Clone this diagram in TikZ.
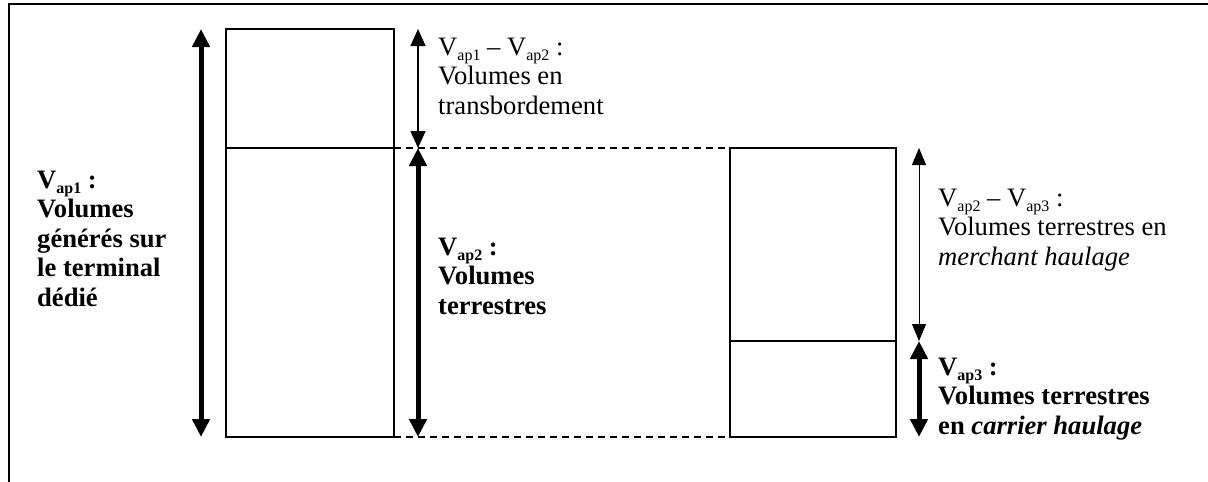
\documentclass[tikz,border=0pt]{standalone}
\usepackage{fontspec}
\setmainfont{Liberation Serif}
\usetikzlibrary{arrows.meta}
\newcommand{\Vs}[1]{V\raisebox{-5pt}{\fontsize{16}{16}\selectfont #1}}
\begin{document}
\begin{tikzpicture}[x=1pt,y=-1pt,
  framel/.style={line width=2.4pt},
  box/.style={draw,line width=2.2pt,minimum width=168pt,inner sep=0pt,outer sep=0pt,anchor=north west},
  dashl/.style={line width=2pt,dash pattern=on 7pt off 5pt},
  thickarr/.style={line width=5pt,{Triangle[width=17pt,length=18pt]}-{Triangle[width=17pt,length=18pt]}},
  thinarr/.style={line width=1.5pt,{Triangle[width=15pt,length=17pt]}-{Triangle[width=15pt,length=17pt]}},
  hairarr/.style={line width=0.8pt,{Triangle[width=14pt,length=17pt]}-{Triangle[width=14pt,length=17pt]}},
  lbl/.style={anchor=base west,align=left,inner sep=0pt,font=\fontsize{26.6}{29.5}\selectfont},
  blbl/.style={lbl,font=\fontsize{26.6}{29.5}\selectfont\bfseries}]
\useasboundingbox (0,0) rectangle (1208,482);
% frame
\coordinate (ftl) at (9,4);
\coordinate (ftr) at (1208,4);
\coordinate (fbl) at (9,482);
\draw[framel] (ftr) -- (ftl) -- (fbl);
% boxes
\node[box,minimum height=119pt] (L1) at (226,29) {};
\node[box,minimum height=289pt] (L2) at (226,148) {};
\node[box,minimum width=166pt,minimum height=193pt] (R1) at (730,148) {};
\node[box,minimum width=166pt,minimum height=96pt] (R2) at (730,341) {};
% dashed guides
\draw[dashl] (L2.north east) -- (R1.north west);
\draw[dashl] (L2.south east) -- (R2.south west);
% arrow end points
\coordinate (a1t) at (201,29);
\coordinate (a1b) at (201,437);
\coordinate (a2t) at (418,29);
\coordinate (a2m) at (418,148);
\coordinate (a2b) at (418,437);
\coordinate (a3t) at (919,148);
\coordinate (a3m) at (919,341);
\coordinate (a3b) at (919,437);
\draw[thickarr] (a1t) -- (a1b);
\draw[thinarr] (a2t) -- (a2m);
\draw[thickarr] (a2m) -- (a2b);
\draw[hairarr] (a3t) -- (a3m);
\draw[thickarr] (a3m) -- (a3b);
% labels (anchored at the baseline of their last line)
\node[blbl] (t1) at (37,306) {\Vs{ap1} :\\Volumes\\générés sur\\le terminal\\dédié};
\node[lbl] (t2) at (438,114) {\Vs{ap1} -- \Vs{ap2} :\\Volumes en\\transbordement};
\node[blbl] (t3) at (438,314) {\Vs{ap2} :\\Volumes\\terrestres};
\node[lbl] (t4) at (938,265) {\Vs{ap2} -- \Vs{ap3} :\\Volumes terrestres en\\\textit{merchant haulage}};
\node[blbl] (t5) at (938,434) {\Vs{ap3} :\\Volumes terrestres\\en \textit{carrier haulage}};
\end{tikzpicture}
\end{document}
